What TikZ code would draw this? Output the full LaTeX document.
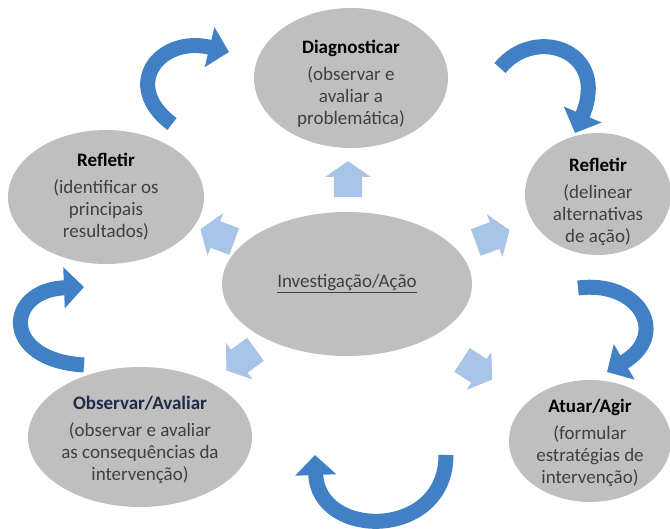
\documentclass[tikz,border=0pt]{standalone}
\usepackage{fontspec}
\setmainfont{Carlito}
\usetikzlibrary{shapes.geometric,shapes.arrows,arrows.meta}
\definecolor{elgray}{RGB}{191,191,191}
\definecolor{txtgray}{RGB}{64,64,64}
\definecolor{navytxt}{RGB}{31,42,72}
\definecolor{ltblue}{RGB}{168,196,230}
\definecolor{curblue}{RGB}{66,128,198}
\tikzset{
	etapa/.style={ellipse,fill=elgray,inner sep=0pt},
	rotulo/.style={align=center,text=txtgray,inner sep=0pt,font=\fontsize{19}{22}\selectfont},
	seta/.style={single arrow,fill=ltblue,inner xsep=0pt,inner ysep=14pt,minimum height=36pt,
		single arrow head extend=8.5pt,single arrow tip angle=110},
	curva/.style={draw=curblue,line width=15pt,-{Triangle[width=40pt,length=20pt]}}
}
\begin{document}
\begin{tikzpicture}[x=1pt,y=-1pt]
	\useasboundingbox (0,0) rectangle (670,529);
	\node[etapa,minimum width=194pt,minimum height=140pt] (diag) at (351,78) {};
	\node[etapa,minimum width=196pt,minimum height=134pt] (refa) at (106,197) {};
	\node[etapa,minimum width=146pt,minimum height=122pt] (refb) at (598,194) {};
	\node[etapa,minimum width=250pt,minimum height=144pt] (inv) at (347,284) {};
	\node[etapa,minimum width=224pt,minimum height=140pt] (obs) at (140,437) {};
	\node[etapa,minimum width=162pt,minimum height=122pt] (atu) at (590,441) {};
	\node[rotulo] (diag-t) at (351,84) {\textcolor{black}{\textbf{Diagnosticar}}\\[5pt](observar e\\avaliar a\\problemática)};
	\node[rotulo] (refa-t) at (refa) {\textcolor{black}{\textbf{Refletir}}\\[5pt](identificar os\\principais\\resultados)};
	\node[rotulo] (refb-t) at (598,202) {\textcolor{black}{\textbf{Refletir}}\\[5pt](delinear\\alternativas\\de ação)};
	\node[rotulo] (inv-t) at (inv) {\underline{Investigação/Ação}};
	\node[rotulo] (obs-t) at (140,440) {\textcolor{navytxt}{\textbf{Observar/Avaliar}}\\[5pt](observar e avaliar\\as consequências da\\intervenção)};
	\node[rotulo] (atu-t) at (590,443) {\textcolor{black}{\textbf{Atuar/Agir}}\\[5pt](formular\\estratégias de\\intervenção)};
	\foreach \n/\x/\y/\a in {sup/348/184/90,sesq/222/237/160,sdir/488/238/20,iesq/245/357/216,idir/473/367/-33}
		\node[seta,rotate=\a] (\n) at (\x,\y) {};
	\coordinate (c1a) at (172,124);
	\coordinate (c1b) at (229,52);
	\coordinate (c2a) at (500,68);
	\coordinate (c2b) at (575,133);
	\coordinate (c3a) at (578,288);
	\coordinate (c3b) at (607,372);
	\coordinate (c4a) at (446,455);
	\coordinate (c4b) at (315,455);
	\coordinate (c5a) at (84,365);
	\coordinate (c5b) at (84,287);
	\draw[curva] (c1a) .. controls (120,85) and (160,35) .. (c1b);
	\draw[curva] (c2a) .. controls (535,25) and (610,50) .. (c2b);
	\draw[curva] (c3a) .. controls (640,280) and (670,335) .. (c3b);
	\draw[curva] (c4a) .. controls (446,540) and (318,540) .. (c4b);
	\draw[curva] (c5a) .. controls (0,360) and (5,290) .. (c5b);
\end{tikzpicture}
\end{document}
